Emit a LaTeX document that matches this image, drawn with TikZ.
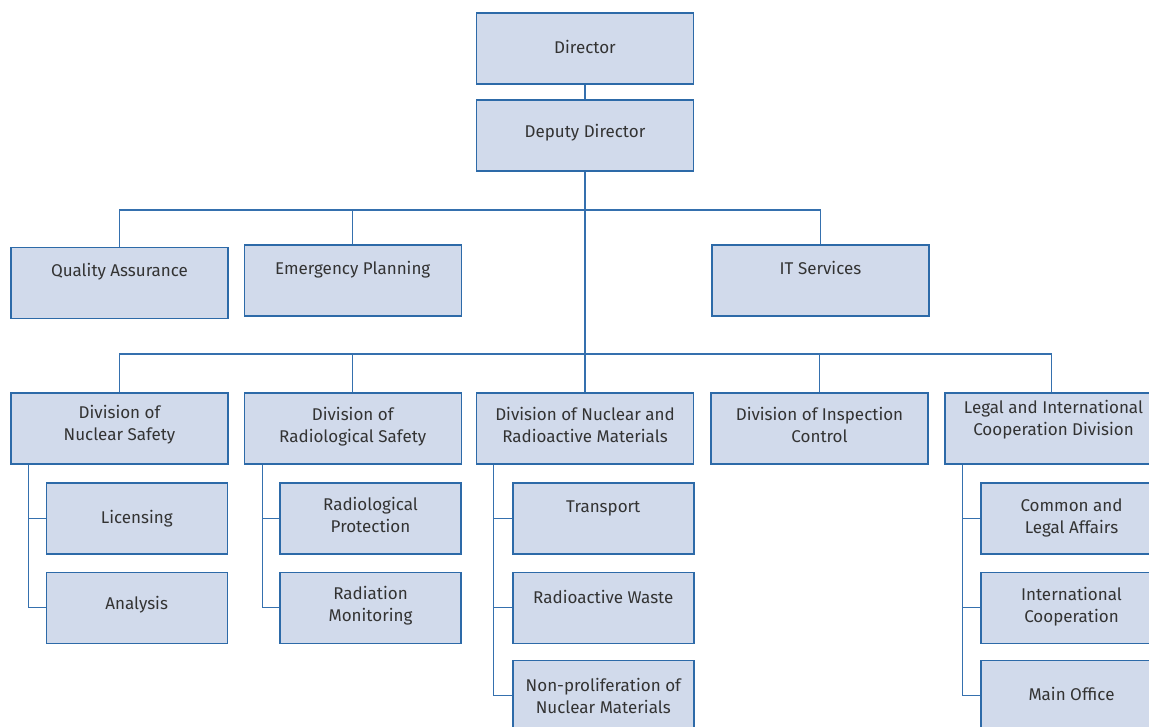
\documentclass[tikz,border=0pt]{standalone}
\usepackage{fontspec}
\setmainfont{Fira Sans}
\usepackage{tikz}
\usetikzlibrary{calc}
\definecolor{boxfill}{HTML}{D1DAEB}
\definecolor{boxline}{HTML}{2D6AA8}
\definecolor{linkblue}{HTML}{3570AE}
\definecolor{textgray}{HTML}{333333}
\tikzset{
	unit/.style={draw=boxline, fill=boxfill, line width=1.4pt, minimum width=217pt, minimum height=71pt, inner sep=0pt},
	subunit/.style={unit, minimum width=181pt},
	txt/.style={font=\fontsize{17}{22}\selectfont, text=textgray, align=center, inner sep=0pt},
	link/.style={draw=linkblue, line width=1.3pt},
}

\begin{document}
\begin{tikzpicture}[x=1pt, y=-1pt]
			%%%%% START %%%%%
			\useasboundingbox (0, 0) rectangle (1149, 727);
			\clip (0, 0) rectangle (1149, 727);
			
			% top
			\node[unit, label={[txt, yshift=2]center:Director}] (dir) at (585, 48.5) {};
			\node[unit, label={[txt, yshift=3]center:Deputy Director}] (dep) at (585, 135.5) {};
			
			% staff units
			\node[unit, label={[txt, yshift=12]center:Quality Assurance}] (qa) at (119.5, 283.2) {};
			\node[unit, label={[txt, yshift=11]center:Emergency Planning}] (ep) at (352.7, 280.5) {};
			\node[unit, label={[txt, yshift=13]center:IT Services}] (its) at (820.5, 280.5) {};
			
			% divisions
			\node[unit, label={[txt, yshift=4]center:Division of\\Nuclear Safety}] (ns) at (119.5, 428.5) {};
			\node[unit, label={[txt, yshift=2]center:Division of\\Radiological Safety}] (rs) at (352.7, 428.5) {};
			\node[unit, label={[txt, yshift=4]center:Division of Nuclear and\\Radioactive Materials}] (nrm) at (585, 428.5) {};
			\node[unit, label={[txt, yshift=4]center:Division of Inspection\\Control}] (ic) at (819.5, 428.5) {};
			\node[unit, label={[txt, yshift=9]center:Legal and International\\Cooperation Division}] (lic) at (1053.5, 428.5) {};
			
			% sections
			\node[subunit, label={[txt]center:Licensing}] (lcs) at (136.7, 518.3) {};
			\node[subunit, label={[txt, yshift=3]center:Analysis}] (ana) at (136.7, 607.8) {};
			\node[subunit, label={[txt, yshift=3]center:Radiological\\Protection}] (rpr) at (370.5, 518.3) {};
			\node[subunit, label={[txt, yshift=2]center:Radiation\\Monitoring}] (rmo) at (370.5, 607.8) {};
			\node[subunit, label={[txt, yshift=10]center:Transport}] (trp) at (603.3, 518.3) {};
			\node[subunit, label={[txt, yshift=11]center:Radioactive Waste}] (rwa) at (603.3, 607.8) {};
			\node[subunit, label={[txt]center:Non-proliferation of\\Nuclear Materials}] (npf) at (603.3, 695.8) {};
			\node[subunit, label={[txt]center:Common and\\Legal Affairs}] (cla) at (1071.5, 518.3) {};
			\node[subunit, label={[txt, yshift=1]center:International\\Cooperation}] (ico) at (1071.5, 607.8) {};
			\node[subunit, label={[txt, yshift=2]center:Main Office}] (mof) at (1071.5, 695.8) {};
			
			% bus lines
			\coordinate (busa) at (585, 210);
			\coordinate (busb) at (585, 354);
			
			\draw[link] (dir) -- (dep);
			\draw[link] (dep.south) -- (busb);
			\draw[link] (qa.north) |- (busa) -| (its.north);
			\draw[link] (ep.north) -- (ep.north |- busa);
			
			\draw[link] (ns.north) |- (busb) -| ([xshift=-2]lic.north);
			\draw[link] (rs.north) -- (rs.north |- busb);
			\draw[link] (nrm.north) -- (busb);
			\draw[link] (ic.north) -- (ic.north |- busb);
			
			% section lines
			\draw[link] ([xshift=18.5]ns.south west) |- (ana.west);
			\draw[link] (lcs.west) -- (lcs.west -| {$(ns.south west)+(18.5,0)$});
			\draw[link] ([xshift=19]rs.south west) |- (rmo.west);
			\draw[link] (rpr.west) -- (rpr.west -| {$(rs.south west)+(19,0)$});
			\draw[link] ([xshift=18]nrm.south west) |- (npf.west);
			\draw[link] (trp.west) -- (trp.west -| {$(nrm.south west)+(18,0)$});
			\draw[link] (rwa.west) -- (rwa.west -| {$(nrm.south west)+(18,0)$});
			\draw[link] ([xshift=18]lic.south west) |- (mof.west);
			\draw[link] (cla.west) -- (cla.west -| {$(lic.south west)+(18,0)$});
			\draw[link] (ico.west) -- (ico.west -| {$(lic.south west)+(18,0)$});
			
			%%%%% END %%%%%
\end{tikzpicture}
\end{document}
